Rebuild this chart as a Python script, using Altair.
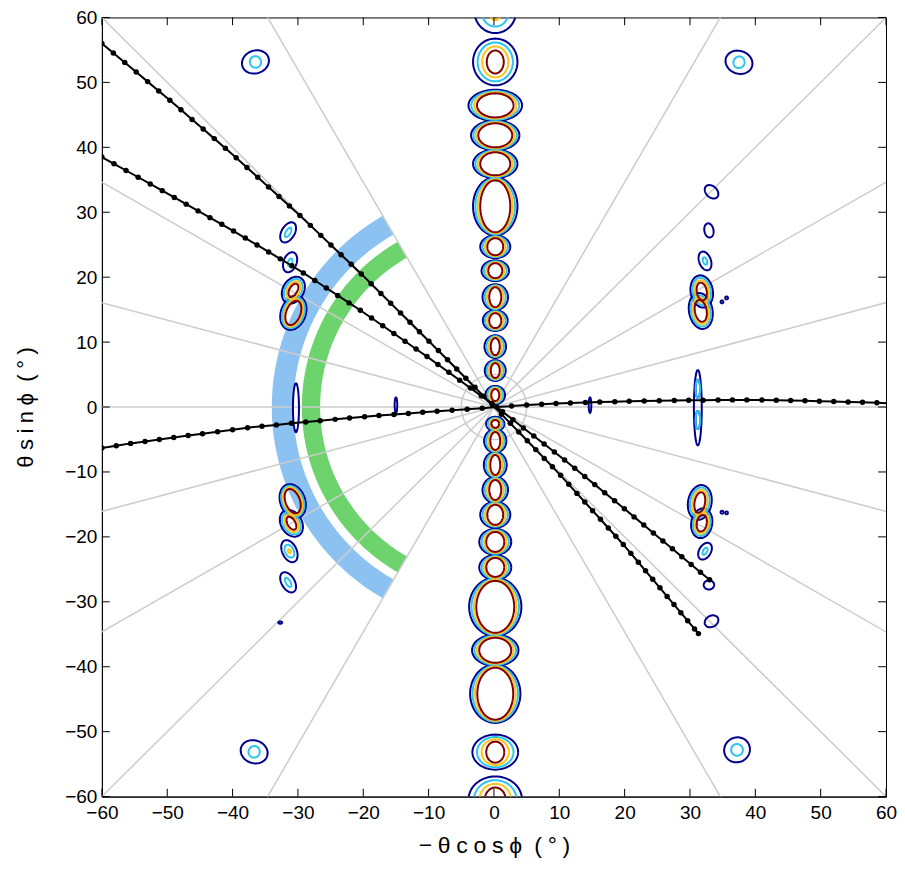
import altair as alt
import numpy as np
import pandas as pd

# ---------------- data ----------------
tick_values = [-60, -50, -40, -30, -20, -10, 0, 10, 20, 30, 40, 50, 60]
x_title = "\u2212\u2005\u03b8\u2005c\u2005o\u2005s\u2005\u03d5\u2005 (\u2005\u00b0\u2005)"
y_title = "\u03b8\u2005s\u2005i\u2005n\u2005\u03d5\u2005 (\u2005\u00b0\u2005)"

# annular bands (centre radius, width in data units, angular extent in degrees measured from +x)
band_name = ["blue", "green"]
band_radius = [32.35, 28.0]
band_width = [3.3, 2.8]
band_start = [120, 120]
band_end = [240, 240]
band_color = ["#8CC2F2", "#6DD36D"]

# grey spokes and small circle
spoke_angles = [0, 15, 30, 45, 60, 120, 135, 150, 165,
                180, 195, 210, 225, 240, 300, 315, 330, 345]
ring_radius = 5.0

# contour blobs: cx, cy, outer semi-axis a, outer b, inner a, inner b, tilt(deg), innermost level
# level 0 = navy, 1 = cyan, 2 = yellow, 3 = dark red
blob_cx = [0.2] * 25 + [
    -31.5, -31.2, -30.7, -30.7, -30.3, -30.8, -31.0, -31.3, -31.5, -32.7,
    33.3, 32.9, 32.3, 31.8, 31.65, 34.9, 35.6, 31.2, 31.2, 31.2,
    31.5, 31.8, 34.9, 35.6, 32.3, 32.9, 33.3,
    -36.5, 37.5, -36.7, 37.2, -15.0, 14.7]
blob_cy = [61.0, 53.15, 46.46, 41.85, 37.46, 30.92, 24.69, 21.0, 16.92, 13.31,
           9.31, 5.62, 1.85, -2.6, -5.23, -8.92, -12.77, -16.6, -20.77, -24.7,
           -30.77, -37.46, -44.15, -53.15, -60.5] + [
    26.9, 22.3, 18.0, 14.5, -0.1, -14.5, -17.9, -22.2, -27.0, -33.2,
    33.15, 27.2, 22.5, 17.8, 14.8, 16.2, 16.8, -0.1, 2.8, -2.0,
    -14.7, -17.9, -16.2, -16.3, -22.2, -27.4, -33.0,
    53.15, 53.1, -53.1, -52.8, 0.3, 0.3]
blob_a_out = [3.2, 3.4, 4.1, 3.7, 3.4, 3.4, 2.3, 2.1, 1.95, 1.9,
              1.65, 1.6, 1.5, 1.4, 1.7, 1.75, 1.95, 2.3, 2.45, 2.45,
              4.0, 3.55, 3.85, 3.5, 4.1] + [
    1.7, 1.6, 2.2, 2.7, 3.77, 2.7, 2.2, 1.8, 1.7, 0.3,
    1.2, 1.1, 1.5, 2.5, 2.8, 0.22, 0.22, 5.8, 1.4, 1.4,
    2.7, 2.3, 0.22, 0.22, 1.4, 0.8, 1.1,
    2.1, 2.1, 2.1, 2.0, 1.2, 1.2]
blob_b_out = [3.4, 3.6, 2.4, 2.3, 2.2, 4.5, 1.75, 1.6, 2.0, 1.6,
              1.75, 1.6, 1.4, 1.1, 1.8, 2.0, 2.0, 2.0, 2.0, 1.9,
              4.5, 2.4, 4.5, 2.7, 3.6] + [
    1.0, 1.0, 1.6, 1.9, 0.46, 1.9, 1.6, 1.1, 1.0, 0.18,
    0.85, 0.7, 0.9, 1.7, 1.8, 0.22, 0.22, 0.6, 0.35, 0.35,
    1.8, 1.6, 0.22, 0.22, 0.9, 0.7, 0.85,
    1.75, 1.75, 1.75, 1.9, 0.2, 0.2]
blob_a_in = [1.0, 1.3, 2.8, 2.6, 2.3, 2.3, 1.22, 1.07, 0.92, 0.92,
             0.69, 0.69, 0.61, 0.6, 0.76, 0.76, 0.92, 1.22, 1.38, 1.38,
             2.9, 2.45, 2.75, 1.38, 1.6] + [
    0.8, 0.6, 1.1, 1.95, 3.77, 1.95, 1.1, 0.3, 0.8, 0.3,
    1.2, 1.1, 0.6, 1.38, 1.7, 0.22, 0.22, 5.8, 1.4, 1.4,
    1.6, 1.3, 0.22, 0.22, 0.6, 0.8, 1.1,
    0.85, 0.85, 0.85, 0.9, 1.2, 1.2]
blob_b_in = [1.4, 1.77, 1.85, 1.85, 1.77, 4.0, 1.31, 1.15, 1.54, 1.15,
             1.31, 1.15, 0.92, 0.6, 1.38, 1.54, 1.54, 1.54, 1.54, 1.46,
             4.0, 1.92, 4.0, 1.62, 1.9] + [
    0.35, 0.3, 0.6, 1.1, 0.46, 1.1, 0.6, 0.22, 0.35, 0.18,
    0.85, 0.7, 0.3, 0.76, 0.9, 0.22, 0.22, 0.6, 0.35, 0.35,
    0.8, 0.76, 0.22, 0.22, 0.3, 0.7, 0.85,
    0.9, 0.9, 0.9, 0.9, 0.2, 0.2]
blob_tilt = [0] * 25 + [
    60, 70, 60, 70, 90, -70, -60, -65, -60, 0,
    -45, 100, 110, 100, 100, 0, 0, 90, 90, 90,
    80, 80, 0, 0, 60, 0, 30,
    20, -20, -20, 30, 90, 90]
blob_top = [2, 3, 3, 3, 3, 3, 3, 3, 3, 3,
            3, 3, 3, 3, 3, 3, 3, 3, 3, 3,
            3, 3, 3, 3, 3] + [
    1, 1, 3, 3, 0, 3, 3, 2, 1, 0,
    0, 0, 1, 3, 3, 0, 0, 0, 1, 1,
    3, 3, 0, 0, 1, 0, 0,
    1, 1, 1, 1, 0, 0]
level_colors = ["#00008C", "#29C4F2", "#FFC21A", "#800000"]

# black trajectories: dot positions read along each track
lineA_x = [-60, -58.25, -56.5, -54.75, -53.0, -51.3, -49.6, -47.9, -46.2, -44.5,
           -42.8, -41.1, -39.45, -37.8, -36.15, -34.5, -32.9, -31.3, -29.7, -28.1,
           -26.5, -24.95, -23.4, -21.85, -20.3, -18.8, -17.3, -15.8, -14.3, -12.85,
           -11.4, -9.95, -8.5, -7.1, -5.7, -4.3, -2.9, -1.55, -0.2, 1.15,
           2.5, 3.8, 5.1, 6.4, 7.7, 8.95, 10.2, 11.45, 12.7, 13.9,
           15.1, 16.3, 17.5, 18.65, 19.8, 20.95, 22.1, 23.2, 24.3, 25.4,
           26.5, 27.55, 28.6, 29.65, 30.7, 31.3]
lineA_y = [56.0, 54.53, 53.06, 51.59, 50.12, 48.69, 47.25, 45.77, 44.29, 42.82,
           41.34, 39.86, 38.40, 36.90, 35.40, 33.90, 32.44, 30.98, 29.51, 27.98,
           26.44, 24.95, 23.46, 21.98, 20.49, 19.0, 17.5, 16.0, 14.5, 13.05,
           11.6, 10.15, 8.69, 7.27, 5.86, 4.44, 3.03, 1.67, 0.30, -1.10,
           -2.50, -3.85, -5.20, -6.56, -7.91, -9.21, -10.52, -11.91, -13.30, -14.63,
           -15.96, -17.29, -18.63, -19.90, -21.18, -22.54, -23.91, -25.22, -26.54, -27.85,
           -29.17, -30.42, -31.67, -32.93, -34.18, -34.9]
lineB_x = [-60, -58.15, -56.3, -54.45, -52.6, -50.76, -48.92, -47.1, -45.28, -43.46,
           -41.65, -39.85, -38.05, -36.26, -34.48, -32.7, -30.93, -29.17, -27.41, -25.66,
           -23.92, -22.18, -20.45, -18.73, -17.02, -15.31, -13.61, -11.92, -10.24, -8.57,
           -6.9, -5.24, -3.59, -1.95, -0.32, 1.3, 2.91, 4.51, 6.1, 7.68,
           9.25, 10.81, 12.36, 13.9, 15.43, 16.95, 18.46, 19.96, 21.45, 22.93,
           24.4, 25.86, 27.31, 28.75, 30.18, 31.6, 33.0]
lineB_y = [38.5, 37.46, 36.43, 35.39, 34.36, 33.33, 32.28, 31.25, 30.21, 29.17,
           28.14, 27.11, 26.03, 24.96, 23.89, 22.82, 21.76, 20.65, 19.49, 18.33,
           17.19, 16.04, 14.90, 13.71, 12.51, 11.32, 10.13, 8.94, 7.77, 6.56,
           5.34, 4.13, 2.92, 1.72, 0.53, -0.71, -1.97, -3.22, -4.46, -5.69,
           -6.92, -8.16, -9.44, -10.70, -11.95, -13.20, -14.44, -15.67, -16.92, -18.16,
           -19.40, -20.62, -21.84, -23.05, -24.25, -25.44, -26.6]
lineC_x = [-60.0, -57.8, -55.6, -53.4, -51.2, -49.0, -46.8, -44.6, -42.3, -40.0,
           -37.7, -35.5, -33.3, -31.0, -28.8, -26.6, -24.3, -22.1, -19.8, -17.6,
           -15.3, -13.1, -10.9, -8.7, -6.4, -4.1, -1.8, 0.4, 2.7, 5.0,
           7.3, 9.5, 11.7, 14.0, 16.2, 18.5, 20.7, 23.0, 25.3, 27.6,
           29.8, 32.0, 34.3, 36.5, 38.7, 41.0, 43.2, 45.4, 47.6, 49.8,
           52.0, 54.2, 56.4, 58.6, 60.8]
lineC_y = [-6.3, -5.95, -5.6, -5.3, -5.0, -4.7, -4.4, -4.1, -3.8, -3.5,
           -3.2, -2.95, -2.75, -2.5, -2.3, -2.1, -1.9, -1.7, -1.5, -1.3,
           -1.15, -0.98, -0.82, -0.66, -0.5, -0.33, -0.17, 0.0, 0.15, 0.3,
           0.43, 0.53, 0.62, 0.7, 0.77, 0.83, 0.88, 0.93, 0.97, 1.0,
           1.03, 1.06, 1.08, 1.1, 1.1, 1.08, 1.05, 1.01, 0.96, 0.9,
           0.84, 0.78, 0.72, 0.65, 0.58]

# ---------------- build tables ----------------
W, H = 785, 780
px_per_unit = W / 120.0

band_rows = []
for n, r, w, a0, a1 in zip(band_name, band_radius, band_width, band_start, band_end):
    for i, t in enumerate(np.linspace(np.radians(a0), np.radians(a1), 121)):
        band_rows.append({"band": n, "i": i, "x": r * np.cos(t), "y": r * np.sin(t)})
band_df = pd.DataFrame(band_rows)

spoke_df = pd.DataFrame({
    "x": [0.0] * len(spoke_angles), "y": [0.0] * len(spoke_angles),
    "x2": [100 * np.cos(np.radians(a)) for a in spoke_angles],
    "y2": [100 * np.sin(np.radians(a)) for a in spoke_angles]})
ring_t = np.linspace(0, 2 * np.pi, 91)
ring_df = pd.DataFrame({"i": range(len(ring_t)), "x": ring_radius * np.cos(ring_t),
                        "y": ring_radius * np.sin(ring_t)})

contour_rows = []
tt = np.linspace(0, 2 * np.pi, 73)
for b in range(len(blob_cx)):
    T = blob_top[b]
    phi = np.radians(blob_tilt[b])
    for k in range(T + 1):
        f = k / T if T > 0 else 0
        a = blob_a_out[b] + (blob_a_in[b] - blob_a_out[b]) * f
        bb = blob_b_out[b] + (blob_b_in[b] - blob_b_out[b]) * f
        xs = blob_cx[b] + a * np.cos(tt) * np.cos(phi) - bb * np.sin(tt) * np.sin(phi)
        ys = blob_cy[b] + a * np.cos(tt) * np.sin(phi) + bb * np.sin(tt) * np.cos(phi)
        for i in range(len(tt)):
            contour_rows.append({"cid": f"{b}_{k}", "level": k, "i": i,
                                 "x": xs[i], "y": ys[i]})
contour_df = pd.DataFrame(contour_rows)

traj_df = pd.concat([
    pd.DataFrame({"traj": "A", "i": range(len(lineA_x)), "x": lineA_x, "y": lineA_y}),
    pd.DataFrame({"traj": "B", "i": range(len(lineB_x)), "x": lineB_x, "y": lineB_y}),
    pd.DataFrame({"traj": "C", "i": range(len(lineC_x)), "x": lineC_x, "y": lineC_y}),
])

# inward ticks on all four sides (MATLAB style box)
tick_len = 1.2
tick_rows = []
for v in tick_values:
    tick_rows.append({"x": v, "y": -60, "x2": v, "y2": -60 + tick_len})
    tick_rows.append({"x": v, "y": 60, "x2": v, "y2": 60 - tick_len})
    tick_rows.append({"x": -60, "y": v, "x2": -60 + tick_len, "y2": v})
    tick_rows.append({"x": 60, "y": v, "x2": 60 - tick_len, "y2": v})
tick_df = pd.DataFrame(tick_rows)

# ---------------- chart ----------------
FONT = "Liberation Sans"
xscale = alt.Scale(domain=[-60, 60], nice=False, zero=False)
yscale = alt.Scale(domain=[-60, 60], nice=False, zero=False)
xaxis = alt.Axis(values=tick_values, title=x_title, grid=False,
                 labelFontSize=19, titleFontSize=23, labelFont=FONT, titleFont=FONT,
                 titleFontWeight="normal", labelColor="black", titleColor="black",
                 domainColor="black", ticks=False, labelPadding=7,
                 titlePadding=12, labelFlush=False)
yaxis = alt.Axis(values=tick_values, title=y_title, grid=False,
                 labelFontSize=19, titleFontSize=22, labelFont=FONT, titleFont=FONT,
                 titleFontWeight="normal", labelColor="black", titleColor="black",
                 domainColor="black", ticks=False, labelPadding=5,
                 titlePadding=27, labelFlush=False)

X = alt.X("x:Q", scale=xscale, axis=xaxis)
Y = alt.Y("y:Q", scale=yscale, axis=yaxis)

layers = []
for n, w, c in zip(band_name, band_width, band_color):
    layers.append(
        alt.Chart(band_df[band_df.band == n]).mark_line(
            color=c, strokeWidth=w * px_per_unit, strokeCap="butt", clip=True
        ).encode(x=X, y=Y, order="i:Q"))

layers.append(alt.Chart(spoke_df).mark_rule(color="#CCCCCC", strokeWidth=1.5, clip=True)
              .encode(x=X, y=Y, x2="x2:Q", y2="y2:Q"))
layers.append(alt.Chart(ring_df).mark_line(color="#CCCCCC", strokeWidth=1.5, clip=True)
              .encode(x=X, y=Y, order="i:Q"))

for k, c in enumerate(level_colors):
    layers.append(
        alt.Chart(contour_df[contour_df.level == k]).mark_line(
            color=c, strokeWidth=2, clip=True
        ).encode(x=X, y=Y, detail="cid:N", order="i:Q"))

layers.append(alt.Chart(traj_df).mark_line(color="black", strokeWidth=2, clip=True)
              .encode(x=X, y=Y, detail="traj:N", order="i:Q"))
layers.append(alt.Chart(traj_df).mark_circle(color="black", size=30, opacity=1, clip=True)
              .encode(x=X, y=Y))
layers.append(alt.Chart(tick_df).mark_rule(color="black", strokeWidth=1)
              .encode(x=X, y=Y, x2="x2:Q", y2="y2:Q"))

chart = alt.layer(*layers).properties(
    width=W, height=H, background="white",
    padding={"left": 6, "top": 0, "right": 0, "bottom": 0}
).configure_view(stroke="black", strokeWidth=1)

chart.save("out.html", embed_options={"renderer": "svg", "actions": False})
